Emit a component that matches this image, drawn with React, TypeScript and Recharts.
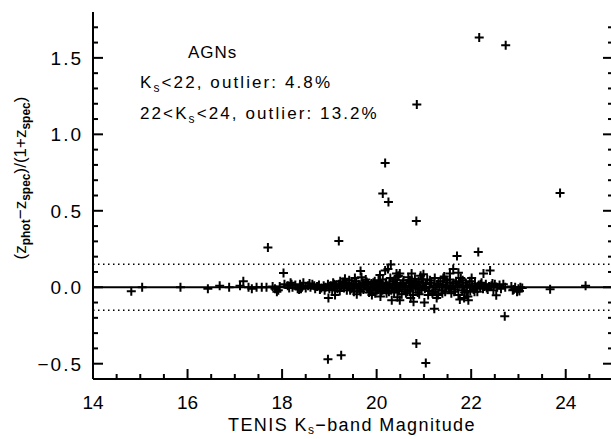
import React from 'react';
import {
  ScatterChart,
  Scatter,
  XAxis,
  YAxis,
  ReferenceLine,
} from 'recharts';

// [Ks magnitude, (zphot - zspec)/(1 + zspec)]
const brightAgn: [number, number][] = [
  [14.81, -0.026], [15.04, 0.0], [15.85, 0.0], [16.43, -0.01], [16.68, 0.01],
  [16.88, 0.0], [17.11, 0.01], [17.18, 0.04], [17.29, 0.0], [17.36, -0.01],
  [17.46, 0.0], [17.57, 0.0], [17.67, 0.0], [17.8, 0.005], [17.85, -0.01],
  [17.89, -0.03], [17.92, -0.02],
];

const coreAgn18: [number, number][] = [
  [17.95, 0.005], [18.05, 0.02], [18.12, 0.01], [18.15, -0.005], [18.18, 0.03],
  [18.2, 0.02], [18.22, 0.0], [18.28, 0.015], [18.33, -0.01], [18.36, -0.015],
  [18.38, 0.02], [18.4, -0.01], [18.42, 0.0], [18.45, 0.03], [18.5, -0.005],
  [18.55, 0.01], [18.58, 0.025], [18.6, 0.0], [18.64, 0.02], [18.68, 0.01],
  [18.7, -0.01], [18.74, 0.005], [18.78, 0.015], [18.8, -0.015], [18.83, -0.005],
  [18.88, 0.01], [18.9, -0.02], [18.92, 0.0], [18.97, 0.02], [19.0, -0.01],
];

const coreAgn19: [number, number][] = [
  [19.03, 0.01], [19.06, -0.02], [19.08, 0.03], [19.1, 0.02], [19.11, 0.0],
  [19.14, 0.015], [19.17, -0.01], [19.2, 0.02], [19.22, -0.025], [19.23, 0.04],
  [19.25, 0.0], [19.26, 0.005], [19.29, 0.035], [19.31, -0.005], [19.33, 0.055],
  [19.34, 0.02], [19.36, 0.03], [19.37, -0.02], [19.4, 0.01], [19.42, 0.045],
  [19.44, -0.02], [19.45, -0.01], [19.47, 0.025], [19.5, 0.0], [19.51, 0.02],
  [19.52, -0.03], [19.54, 0.06], [19.55, 0.015], [19.57, 0.04], [19.58, -0.045],
  [19.59, 0.0], [19.6, -0.005], [19.62, 0.02], [19.64, -0.02], [19.66, -0.03],
  [19.67, 0.005], [19.68, 0.065], [19.7, 0.03], [19.72, -0.015], [19.73, 0.02],
  [19.75, 0.01], [19.77, 0.05], [19.79, 0.035], [19.8, -0.01], [19.82, 0.02],
  [19.84, -0.035], [19.86, -0.02], [19.87, 0.0], [19.89, 0.025], [19.9, -0.05],
  [19.92, -0.02], [19.93, 0.03], [19.94, 0.01], [19.96, 0.04], [19.97, -0.04],
  [19.98, -0.005],
];

const coreAgn20: [number, number][] = [
  [20.0, -0.02], [20.01, 0.02], [20.03, -0.01], [20.04, 0.045], [20.05, 0.035],
  [20.07, 0.0], [20.08, -0.06], [20.09, -0.03], [20.11, 0.015], [20.12, -0.02],
  [20.13, 0.05], [20.15, -0.015], [20.17, 0.005], [20.19, 0.03], [20.2, 0.02],
  [20.21, -0.04], [20.23, 0.01], [20.25, -0.005], [20.26, -0.03], [20.27, 0.025],
  [20.29, 0.06], [20.31, -0.02], [20.33, 0.0], [20.34, 0.015], [20.35, 0.04],
  [20.37, -0.035], [20.39, 0.015], [20.4, 0.05], [20.41, -0.01], [20.43, 0.03],
  [20.44, -0.065], [20.45, 0.07], [20.47, -0.025], [20.48, -0.015], [20.49, 0.005],
  [20.51, 0.02], [20.53, -0.045], [20.55, 0.01], [20.56, 0.03], [20.57, 0.045],
  [20.59, -0.015], [20.61, 0.0], [20.62, -0.04], [20.63, 0.025], [20.65, -0.03],
  [20.67, 0.065], [20.69, 0.01], [20.7, 0.045], [20.71, -0.02], [20.72, -0.07],
  [20.73, 0.035], [20.75, 0.0], [20.76, 0.015], [20.77, -0.05], [20.79, 0.02],
  [20.81, 0.055], [20.83, -0.01], [20.84, 0.03], [20.85, 0.015], [20.87, -0.035],
  [20.89, 0.04], [20.9, -0.045], [20.91, 0.0], [20.93, 0.075], [20.95, -0.02],
  [20.96, 0.05], [20.97, 0.01], [20.99, 0.03],
];

const coreAgn21: [number, number][] = [
  [21.02, -0.01], [21.04, 0.02], [21.05, 0.0], [21.07, 0.05], [21.09, -0.05],
  [21.1, -0.025], [21.12, 0.0], [21.13, 0.045], [21.15, 0.03], [21.18, -0.04],
  [21.2, 0.01], [21.21, -0.03], [21.23, 0.06], [21.25, -0.015], [21.27, -0.07],
  [21.28, 0.02], [21.3, -0.05], [21.31, 0.025], [21.33, 0.0], [21.35, 0.04],
  [21.38, -0.02], [21.39, -0.04], [21.4, 0.015], [21.41, 0.06], [21.43, 0.07],
  [21.45, -0.03], [21.47, 0.045], [21.48, 0.005], [21.5, 0.03], [21.53, -0.01],
  [21.55, 0.05], [21.56, 0.0], [21.58, -0.04], [21.6, 0.01], [21.63, 0.025],
  [21.64, -0.03], [21.66, -0.015], [21.68, 0.04], [21.71, 0.0], [21.73, -0.05],
  [21.74, 0.035], [21.76, 0.02], [21.78, 0.06], [21.81, -0.02], [21.82, 0.045],
  [21.83, 0.01], [21.85, -0.07], [21.86, -0.035], [21.88, 0.03], [21.9, -0.03],
  [21.91, 0.0], [21.93, -0.06], [21.96, 0.015], [21.97, 0.04], [21.98, -0.025],
];

const coreAgn22: [number, number][] = [
  [22.01, 0.06], [22.02, 0.01], [22.05, -0.015], [22.07, -0.03], [22.08, 0.025],
  [22.1, 0.0], [22.13, -0.03], [22.16, 0.015], [22.19, 0.0], [22.2, 0.02],
  [22.22, 0.03], [22.25, -0.01], [22.28, 0.005], [22.31, 0.02], [22.33, -0.005],
  [22.35, -0.015], [22.38, 0.005], [22.43, 0.01], [22.45, 0.025], [22.47, -0.02],
  [22.5, 0.02], [22.53, -0.052], [22.55, 0.0], [22.6, 0.015], [22.63, -0.01],
  [22.68, 0.02], [22.72, 0.0], [22.85, 0.005], [22.88, -0.02], [22.9, -0.015],
  [22.93, 0.0], [22.97, -0.03], [23.0, -0.01], [23.02, -0.025], [23.04, 0.0],
  [23.08, -0.005],
];

const upperScatter: [number, number][] = [
  [18.03, 0.094], [19.66, 0.107], [20.07, 0.08], [20.18, 0.11], [20.24, 0.12],
  [20.3, 0.148], [20.42, 0.09], [20.46, 0.075], [20.49, 0.09], [20.74, 0.09],
  [20.99, 0.085], [21.55, 0.09], [21.62, 0.12], [21.73, 0.095], [22.26, 0.09],
  [22.4, 0.11],
];

const lowerScatter: [number, number][] = [
  [18.98, -0.07], [19.12, -0.05], [20.32, -0.085], [20.49, -0.085], [20.78, -0.095],
  [21.01, -0.1], [21.22, -0.14], [21.76, -0.08], [21.94, -0.085],
];

const faintAgn: [number, number][] = [
  [23.67, -0.013], [24.42, 0.009],
];

const outliers: [number, number][] = [
  [22.17, 1.633], [22.73, 1.583], [20.85, 1.195], [20.18, 0.813], [20.13, 0.613],
  [20.25, 0.558], [20.84, 0.434], [23.88, 0.617], [19.2, 0.303], [17.7, 0.26],
  [22.15, 0.231], [21.7, 0.205], [18.97, -0.471], [19.25, -0.445], [20.84, -0.368],
  [21.04, -0.495], [22.71, -0.19],
];

const xTicks = [
  14, 14.5, 15, 15.5, 16, 16.5, 17, 17.5, 18, 18.5, 19, 19.5, 20, 20.5, 21, 21.5,
  22, 22.5, 23, 23.5, 24, 24.5,
];
const yTicks = [
  -0.6, -0.5, -0.4, -0.3, -0.2, -0.1, 0, 0.1, 0.2, 0.3, 0.4, 0.5, 0.6, 0.7, 0.8,
  0.9, 1.0, 1.1, 1.2, 1.3, 1.4, 1.5, 1.6, 1.7,
];
const outlierLimit = 0.15;

const points = [
  ...brightAgn, ...coreAgn18, ...coreAgn19, ...coreAgn20, ...coreAgn21,
  ...coreAgn22, ...upperScatter, ...lowerScatter, ...faintAgn, ...outliers,
].map(([k, dz]) => ({ k, dz }));

const FONT = '"Liberation Sans", Arial, sans-serif';
const MAJOR = 10;
const MINOR = 5;

const isMajorX = (v: number) => Math.abs(v / 2 - Math.round(v / 2)) < 1e-6;
const isMajorY = (v: number) => Math.abs(v * 2 - Math.round(v * 2)) < 1e-6;

const fmtY = (v: number) => {
  const s = Math.abs(v).toFixed(1);
  return v < -1e-6 ? `\u2212${s}` : s;
};

const BottomTick = (props: any) => {
  const { x, y, payload } = props;
  const major = isMajorX(payload.value);
  return (
    <g>
      <line x1={x} y1={y} x2={x} y2={y - (major ? MAJOR : MINOR)} stroke="#000" strokeWidth={2} />
      {major && (
        <text x={x} y={y + 30} textAnchor="middle" fontSize={19} fontFamily={FONT} fill="#000">
          {payload.value}
        </text>
      )}
    </g>
  );
};

const TopTick = (props: any) => {
  const { x, y, payload } = props;
  const major = isMajorX(payload.value);
  return <line x1={x} y1={y} x2={x} y2={y + (major ? MAJOR : MINOR)} stroke="#000" strokeWidth={2} />;
};

const LeftTick = (props: any) => {
  const { x, y, payload } = props;
  const major = isMajorY(payload.value);
  return (
    <g>
      <line x1={x} y1={y} x2={x + (major ? MAJOR : MINOR)} y2={y} stroke="#000" strokeWidth={2} />
      {major && (
        <text
          x={x - 10}
          y={y + 7}
          textAnchor="end"
          fontSize={19}
          letterSpacing={2}
          fontFamily={FONT}
          fill="#000"
        >
          {fmtY(payload.value)}
        </text>
      )}
    </g>
  );
};

const RightTick = (props: any) => {
  const { x, y, payload } = props;
  const major = isMajorY(payload.value);
  return <line x1={x} y1={y} x2={x - (major ? MAJOR : MINOR)} y2={y} stroke="#000" strokeWidth={2} />;
};

const PlusMarker = (props: any) => {
  const { cx, cy } = props;
  if (cx == null || cy == null) return null;
  const r = 4.5;
  return (
    <path
      d={`M${cx - r},${cy}H${cx + r}M${cx},${cy - r}V${cy + r}`}
      stroke="#000"
      strokeWidth={2}
      fill="none"
    />
  );
};

const Annotations = () => (
  <svg
    width={611}
    height={439}
    style={{ position: 'absolute', left: 0, top: 0, pointerEvents: 'none' }}
    fontFamily={FONT}
    fill="#000"
  >
    <text x={188} y={58} fontSize={17} letterSpacing={1}>AGNs</text>
    <text x={140} y={88} fontSize={17} letterSpacing={2.1}>
      K<tspan fontSize={12} dy={4}>s</tspan>
      <tspan dy={-4}>&lt;22, outlier: 4.8%</tspan>
    </text>
    <text x={140} y={119} fontSize={17} letterSpacing={2.1}>
      22&lt;K<tspan fontSize={12} dy={4}>s</tspan>
      <tspan dy={-4}>&lt;24, outlier: 13.2%</tspan>
    </text>
    <text x={352} y={431} fontSize={18} letterSpacing={1.4} textAnchor="middle">
      TENIS K<tspan fontSize={12} dy={3}>s</tspan>
      <tspan dy={-3}>{'\u2212band Magnitude'}</tspan>
    </text>
    <text transform="translate(26,178) rotate(-90)" fontSize={17} textAnchor="middle">
      (z<tspan fontSize={12} dy={4} fontWeight="bold">phot</tspan>
      <tspan dy={-4}>{'\u2212'}z</tspan>
      <tspan fontSize={12} dy={4} fontWeight="bold">spec</tspan>
      <tspan dy={-4}>)/(1+z</tspan>
      <tspan fontSize={12} dy={4} fontWeight="bold">spec</tspan>
      <tspan dy={-4}>)</tspan>
    </text>
  </svg>
);

export default function App() {
  return (
    <div
      style={{
        position: 'absolute',
        left: 0,
        top: 0,
        width: 611,
        height: 439,
        overflow: 'hidden',
        background: '#fff',
      }}
    >
      <ScatterChart
        width={615}
        height={439}
        margin={{ top: 12, right: 0, bottom: 0, left: 0 }}
      >
        <XAxis
          xAxisId="bottom"
          type="number"
          dataKey="k"
          domain={[14, 25]}
          ticks={xTicks}
          interval={0}
          allowDataOverflow
          orientation="bottom"
          height={60}
          tickSize={0}
          tickMargin={0}
          tickLine={false}
          tick={<BottomTick />}
          axisLine={{ stroke: '#000', strokeWidth: 2 }}
        />
        <XAxis
          xAxisId="top"
          type="number"
          domain={[14, 25]}
          ticks={xTicks}
          interval={0}
          allowDataOverflow
          orientation="top"
          height={0}
          tickSize={0}
          tickMargin={0}
          tickLine={false}
          tick={<TopTick />}
          axisLine={{ stroke: '#000', strokeWidth: 2 }}
        />
        <YAxis
          yAxisId="left"
          type="number"
          dataKey="dz"
          domain={[-0.6, 1.8]}
          ticks={yTicks}
          interval={0}
          allowDataOverflow
          orientation="left"
          width={93}
          tickSize={0}
          tickMargin={0}
          tickLine={false}
          tick={<LeftTick />}
          axisLine={{ stroke: '#000', strokeWidth: 2 }}
        />
        <YAxis
          yAxisId="right"
          type="number"
          domain={[-0.6, 1.8]}
          ticks={yTicks}
          interval={0}
          allowDataOverflow
          orientation="right"
          width={2}
          tickSize={0}
          tickMargin={0}
          tickLine={false}
          tick={<RightTick />}
          axisLine={{ stroke: '#000', strokeWidth: 2 }}
        />
        <ReferenceLine xAxisId="bottom" yAxisId="left" y={0} stroke="#000" strokeWidth={2} />
        <ReferenceLine
          xAxisId="bottom"
          yAxisId="left"
          y={outlierLimit}
          stroke="#000"
          strokeWidth={1.5}
          strokeDasharray="1.5 3.5"
        />
        <ReferenceLine
          xAxisId="bottom"
          yAxisId="left"
          y={-outlierLimit}
          stroke="#000"
          strokeWidth={1.5}
          strokeDasharray="1.5 3.5"
        />
        <Scatter
          data={points}
          xAxisId="bottom"
          yAxisId="left"
          shape={<PlusMarker />}
          isAnimationActive={false}
        />
      </ScatterChart>
      <Annotations />
    </div>
  );
}
